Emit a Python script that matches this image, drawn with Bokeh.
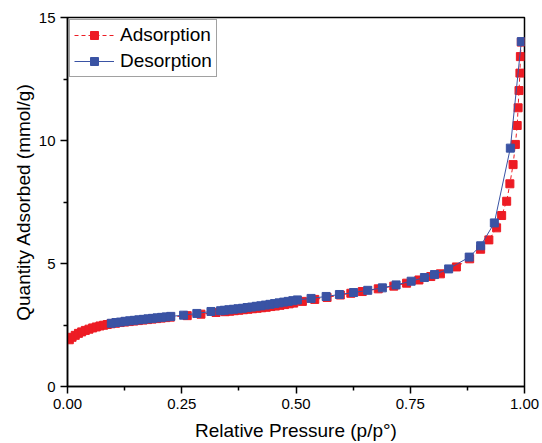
from bokeh.plotting import figure
from bokeh.models import Range1d, FixedTicker, NumeralTickFormatter, Legend, LegendItem
from bokeh.embed import file_html
from bokeh.resources import INLINE

# Adsorption branch (red)
ads_x = [0.004, 0.010, 0.017, 0.024, 0.031, 0.039, 0.047, 0.055, 0.063, 0.071,
         0.079, 0.087, 0.095, 0.105, 0.115, 0.125, 0.135, 0.145, 0.155, 0.165,
         0.175, 0.185, 0.195, 0.205, 0.215, 0.225, 0.262, 0.292, 0.325, 0.345,
         0.355, 0.365, 0.375, 0.385, 0.395, 0.405, 0.415, 0.425, 0.435, 0.445,
         0.455, 0.465, 0.475, 0.485, 0.495, 0.514, 0.541, 0.568, 0.597, 0.620,
         0.645, 0.680, 0.714, 0.742, 0.769, 0.795, 0.816, 0.851, 0.880, 0.904,
         0.922, 0.939, 0.950, 0.961, 0.968, 0.975, 0.980, 0.984, 0.986, 0.988,
         0.990, 0.991, 0.993]
ads_y = [1.90, 2.00, 2.08, 2.16, 2.22, 2.28, 2.33, 2.38, 2.42, 2.46,
         2.49, 2.52, 2.55, 2.57, 2.60, 2.62, 2.64, 2.66, 2.68, 2.70,
         2.72, 2.74, 2.76, 2.78, 2.80, 2.82, 2.88, 2.94, 3.01, 3.04,
         3.06, 3.08, 3.10, 3.12, 3.14, 3.16, 3.18, 3.20, 3.22, 3.25,
         3.27, 3.30, 3.33, 3.36, 3.39, 3.46, 3.54, 3.62, 3.72, 3.79,
         3.86, 3.97, 4.08, 4.20, 4.33, 4.47, 4.58, 4.86, 5.19, 5.58,
         5.96, 6.45, 6.95, 7.53, 8.24, 9.02, 9.84, 10.61, 11.33, 12.03,
         12.74, 13.41, 14.00]

# Desorption branch (blue)
des_x = [0.993, 0.969, 0.934, 0.904, 0.879, 0.834, 0.803, 0.781, 0.752, 0.719,
         0.689, 0.657, 0.626, 0.595, 0.566, 0.533, 0.503, 0.493, 0.483, 0.473,
         0.463, 0.453, 0.443, 0.433, 0.423, 0.413, 0.403, 0.393, 0.383, 0.373,
         0.363, 0.353, 0.343, 0.335, 0.314, 0.283, 0.254, 0.226, 0.216, 0.206,
         0.196, 0.186, 0.176, 0.166, 0.156, 0.146, 0.136, 0.126, 0.116, 0.106,
         0.096]
des_y = [14.02, 9.69, 6.65, 5.72, 5.26, 4.78, 4.55, 4.43, 4.28, 4.13,
         4.01, 3.91, 3.82, 3.74, 3.66, 3.58, 3.52, 3.49, 3.46, 3.43,
         3.40, 3.37, 3.34, 3.31, 3.28, 3.26, 3.23, 3.21, 3.18, 3.16,
         3.14, 3.12, 3.10, 3.08, 3.05, 2.97, 2.90, 2.85, 2.83, 2.81,
         2.79, 2.77, 2.75, 2.73, 2.71, 2.69, 2.67, 2.65, 2.62, 2.60,
         2.57]

x_ticks = [0, 0.25, 0.5, 0.75, 1.0]
y_ticks = [0, 5, 10, 15]

RED = "#ED1C24"
BLUE = "#3A53A4"
FONT = "Liberation Sans"

p = figure(width=542, height=443, output_backend="svg", toolbar_location=None,
           x_range=Range1d(0, 1), y_range=Range1d(0, 15),
           min_border_left=67, min_border_right=18, min_border_top=17, min_border_bottom=57)

p.xgrid.visible = False
p.ygrid.visible = False
p.outline_line_color = "black"
p.outline_line_width = 1.5
p.outline_line_alpha = 1.0

r_line = p.line(ads_x, ads_y, line_color=RED, line_width=1, line_dash="4 3")
r_pts = p.scatter(ads_x, ads_y, marker="square", size=8, fill_color=RED, line_color=RED)
b_line = p.line(des_x, des_y, line_color=BLUE, line_width=1)
b_pts = p.scatter(des_x, des_y, marker="square", size=8, fill_color=BLUE, line_color=BLUE)

p.xaxis.ticker = FixedTicker(ticks=x_ticks, minor_ticks=[0.125, 0.375, 0.625, 0.875])
p.yaxis.ticker = FixedTicker(ticks=y_ticks, minor_ticks=[2.5, 7.5, 12.5])
p.xaxis.formatter = NumeralTickFormatter(format="0.00")

for ax in (p.xaxis[0], p.yaxis[0]):
    ax.axis_line_width = 1.5
    ax.axis_line_color = "black"
    ax.major_tick_line_width = 1.5
    ax.minor_tick_line_width = 1.5
    ax.major_tick_out = 7
    ax.major_tick_in = 0
    ax.minor_tick_out = 4
    ax.minor_tick_in = 0
    ax.major_label_text_font = FONT
    ax.major_label_text_font_size = "15px"
    ax.major_label_text_color = "black"
    ax.axis_label_text_font = FONT
    ax.axis_label_text_font_size = "19px"
    ax.axis_label_text_font_style = "normal"
    ax.axis_label_text_color = "black"
    ax.major_label_standoff = 5

p.xaxis.axis_label_standoff = 8
p.yaxis.axis_label_standoff = 2
p.xaxis.axis_label = "Relative Pressure (p/p°)"
p.yaxis.axis_label = "Quantity Adsorbed (mmol/g)"

legend = Legend(items=[
    LegendItem(label="Adsorption", renderers=[r_line, r_pts]),
    LegendItem(label="Desorption", renderers=[b_line, b_pts]),
], location="top_left")
legend.margin = 2
legend.padding = 4
legend.spacing = 4
legend.glyph_width = 40
legend.glyph_height = 20
legend.label_height = 20
legend.label_standoff = 6
legend.label_text_font = FONT
legend.label_text_font_size = "19px"
legend.label_text_color = "black"
legend.border_line_color = "#444444"
legend.border_line_width = 1
legend.background_fill_alpha = 1.0
p.add_layout(legend)

open("out.html", "w").write(file_html(p, INLINE))
